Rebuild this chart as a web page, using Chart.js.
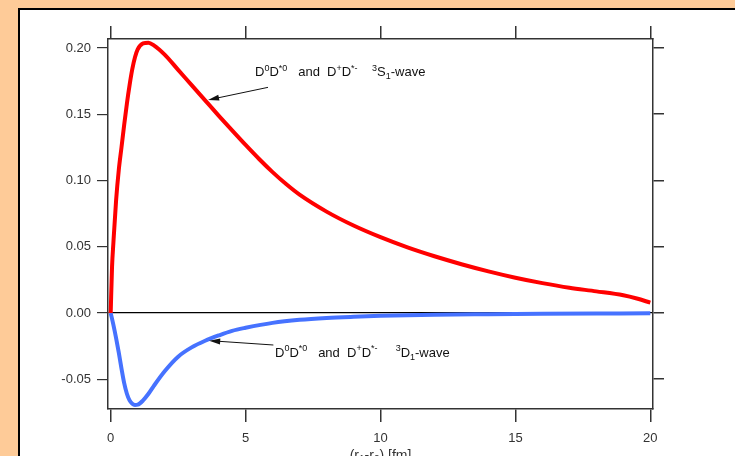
<!DOCTYPE html>
<html>
<head>
<meta charset="utf-8">
<script src="https://cdn.jsdelivr.net/npm/chart.js@4"></script>
<style>
  html, body { margin: 0; padding: 0; }
  body { width: 735px; height: 456px; background: #FECB98; overflow: hidden; position: relative; }
  #panel { position: absolute; left: 18px; top: 8px; width: 800px; height: 520px; background: #fff; border: 2px solid #000; }
  #myChart { position: absolute; left: 0; top: 0; }
</style>
</head>
<body>
<div id="panel"></div>
<canvas id="myChart" width="735" height="456"></canvas>
<script>
// r in fm
const rS = [0, 0.05, 0.1, 0.2, 0.3, 0.4, 0.5, 0.6, 0.7, 0.8, 0.9, 1.0, 1.2, 1.4, 1.6, 2.0, 2.5, 3.0, 3.5, 4.0, 4.5, 5.0, 5.5, 6.0, 6.5, 7.0, 8.0, 9.0, 10.0, 11.0, 12.0, 13.0, 14.0, 15.0, 16.0, 17.0, 18.0, 19.0, 19.5, 20.0];
const sWave = [0, 0.035, 0.053, 0.085, 0.108, 0.125, 0.142, 0.158, 0.172, 0.184, 0.193, 0.199, 0.2035, 0.204, 0.202, 0.195, 0.1835, 0.172, 0.1605, 0.149, 0.1378, 0.1268, 0.1162, 0.1063, 0.0973, 0.0893, 0.0765, 0.066, 0.0572, 0.0495, 0.0428, 0.0368, 0.0314, 0.0266, 0.0225, 0.019, 0.0163, 0.0133, 0.0109, 0.0078];

const rD = [0, 0.1, 0.2, 0.3, 0.4, 0.5, 0.6, 0.7, 0.8, 0.9, 1.0, 1.2, 1.4, 1.6, 2.0, 2.5, 3.0, 3.5, 4.0, 4.5, 5.0, 6.0, 7.0, 8.0, 9.0, 10.0, 12.0, 14.0, 16.0, 18.0, 20.0];
const dWave = [0, -0.009, -0.019, -0.030, -0.042, -0.053, -0.061, -0.066, -0.0685, -0.0694, -0.0692, -0.066, -0.061, -0.055, -0.044, -0.033, -0.026, -0.021, -0.017, -0.0135, -0.0112, -0.0075, -0.0052, -0.0038, -0.0029, -0.0022, -0.0013, -0.0009, -0.0006, -0.0004, -0.0003];

const xTicks = [0, 5, 10, 15, 20];
const yTicks = [-0.05, 0.00, 0.05, 0.10, 0.15, 0.20];

// annotation text pieces: s = 'sup' | 'sub'
const labelS = [
  { t: 'D' }, { t: '0', s: 'sup' }, { t: 'D' }, { t: '*0', s: 'sup' },
  { t: '   and  D' }, { t: '+', s: 'sup' }, { t: 'D' }, { t: '*-', s: 'sup' },
  { t: '    ' }, { t: '3', s: 'sup' }, { t: 'S' }, { t: '1', s: 'sub' }, { t: '-wave' }
];
const labelD = [
  { t: 'D' }, { t: '0', s: 'sup' }, { t: 'D' }, { t: '*0', s: 'sup' },
  { t: '   and  D' }, { t: '+', s: 'sup' }, { t: 'D' }, { t: '*-', s: 'sup' },
  { t: '     ' }, { t: '3', s: 'sup' }, { t: 'D' }, { t: '1', s: 'sub' }, { t: '-wave' }
];
const xTitle = [{ t: '(r' }, { t: '1', s: 'sub' }, { t: '-r' }, { t: '2', s: 'sub' }, { t: ') [fm]' }];

const notes = [
  { parts: labelS, x: 5.35, y: 0.1789, from: [5.83, 0.1703], to: [3.61, 0.1608] },
  { parts: labelD, x: 6.09, y: -0.0332, from: [6.03, -0.0242], to: [3.65, -0.0209] }
];

const FONT = "'Liberation Sans', Arial, sans-serif";

function drawRich(ctx, parts, x, y, size, align) {
  const small = Math.round(size * 0.7);
  let total = 0;
  parts.forEach(p => {
    ctx.font = (p.s ? small : size) + 'px ' + FONT;
    total += ctx.measureText(p.t).width;
  });
  let cx = align === 'center' ? x - total / 2 : x;
  ctx.textBaseline = 'alphabetic';
  ctx.textAlign = 'left';
  parts.forEach(p => {
    ctx.font = (p.s ? small : size) + 'px ' + FONT;
    let dy = 0;
    if (p.s === 'sup') dy = -size * 0.42;
    if (p.s === 'sub') dy = size * 0.22;
    ctx.fillText(p.t, cx, y + dy);
    cx += ctx.measureText(p.t).width;
  });
}

const notesPlugin = {
  id: 'notes',
  afterDatasetsDraw(chart) {
    const ctx = chart.ctx;
    const xs = chart.scales.x, ys = chart.scales.y;
    ctx.save();
    ctx.fillStyle = '#111';
    ctx.strokeStyle = '#111';
    ctx.lineWidth = 1;
    notes.forEach(n => {
      drawRich(ctx, n.parts, xs.getPixelForValue(n.x), ys.getPixelForValue(n.y), 13, 'left');
      const x1 = xs.getPixelForValue(n.from[0]), y1 = ys.getPixelForValue(n.from[1]);
      const x2 = xs.getPixelForValue(n.to[0]), y2 = ys.getPixelForValue(n.to[1]);
      const a = Math.atan2(y2 - y1, x2 - x1);
      ctx.beginPath();
      ctx.moveTo(x1, y1);
      ctx.lineTo(x2 - 8 * Math.cos(a), y2 - 8 * Math.sin(a));
      ctx.stroke();
      ctx.beginPath();
      ctx.moveTo(x2, y2);
      ctx.lineTo(x2 - 11 * Math.cos(a) + 3 * Math.sin(a), y2 - 11 * Math.sin(a) - 3 * Math.cos(a));
      ctx.lineTo(x2 - 11 * Math.cos(a) - 3 * Math.sin(a), y2 - 11 * Math.sin(a) + 3 * Math.cos(a));
      ctx.closePath();
      ctx.fill();
    });
    ctx.fillStyle = '#333';
    drawRich(ctx, xTitle, xs.getPixelForValue(10), 460, 14, 'center');
    ctx.restore();
  }
};

function fixSize(w, h) {
  return scale => {
    if (w != null) scale.width = w;
    if (h != null) scale.height = h;
  };
}

const toPts = (xs, ys) => xs.map((x, i) => ({ x: x, y: ys[i] }));

const axisBorder = { display: true, color: '#333', width: 1.5 };
const tickFont = { family: FONT, size: 13 };

new Chart(document.getElementById('myChart').getContext('2d'), {
  type: 'line',
  data: {
    datasets: [
      {
        label: 'S-wave',
        data: toPts(rS, sWave),
        borderColor: '#FF0000',
        borderWidth: 4,
        pointRadius: 0,
        fill: false,
        cubicInterpolationMode: 'monotone'
      },
      {
        label: 'D-wave',
        data: toPts(rD, dWave),
        borderColor: '#4672FF',
        borderWidth: 4,
        pointRadius: 0,
        fill: false,
        cubicInterpolationMode: 'monotone'
      }
    ]
  },
  options: {
    responsive: false,
    animation: false,
    layout: { padding: 0 },
    plugins: { legend: { display: false }, tooltip: { enabled: false } },
    scales: {
      x: {
        type: 'linear', position: 'bottom', min: -0.1, max: 20.1,
        afterFit: fixSize(null, 47),
        afterBuildTicks: s => { s.ticks = xTicks.map(v => ({ value: v })); },
        ticks: { font: tickFont, color: '#333', padding: 9, maxRotation: 0, callback: v => String(v) },
        grid: { drawOnChartArea: false, tickLength: 13, color: '#333', lineWidth: 1.5 },
        border: axisBorder
      },
      xTop: {
        type: 'linear', position: 'top', min: -0.1, max: 20.1,
        afterFit: fixSize(null, 39),
        afterBuildTicks: s => { s.ticks = xTicks.map(v => ({ value: v })); },
        ticks: { display: false },
        grid: { drawOnChartArea: false, tickLength: 13, color: '#333', lineWidth: 1.5 },
        border: axisBorder
      },
      y: {
        type: 'linear', position: 'left', min: -0.0725, max: 0.2068,
        afterFit: fixSize(108, null),
        afterBuildTicks: s => { s.ticks = yTicks.map(v => ({ value: v })); },
        ticks: { font: tickFont, color: '#333', padding: 6, callback: v => (Math.abs(v) < 1e-9 ? 0 : v).toFixed(2) },
        grid: {
          drawOnChartArea: true, tickLength: 11, lineWidth: 1.2, tickColor: '#333',
          color: c => (c.tick && Math.abs(c.tick.value) < 1e-9 ? '#000' : 'rgba(0,0,0,0)')
        },
        border: axisBorder
      },
      yRight: {
        type: 'linear', position: 'right', min: -0.0725, max: 0.2068,
        afterFit: fixSize(82, null),
        afterBuildTicks: s => { s.ticks = yTicks.map(v => ({ value: v })); },
        ticks: { display: false },
        grid: { drawOnChartArea: false, tickLength: 11, color: '#333', lineWidth: 1.5 },
        border: axisBorder
      }
    }
  },
  plugins: [notesPlugin]
});
</script>
</body>
</html>
